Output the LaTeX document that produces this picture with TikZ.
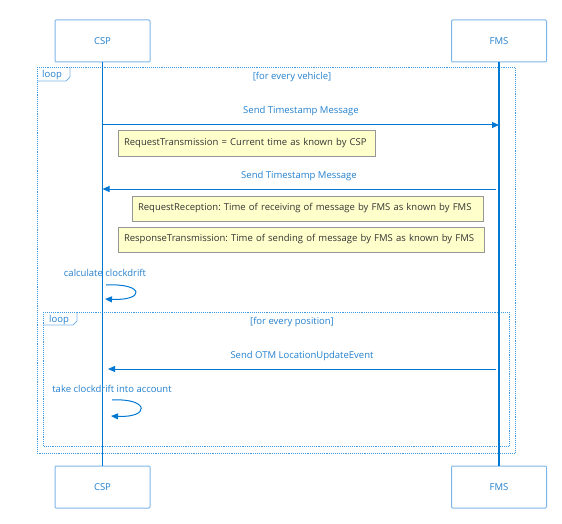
\documentclass[tikz,border=0pt]{standalone}
\usepackage{fontspec}
\setmainfont{Open Sans}
\usepackage{tikz}
\usetikzlibrary{arrows.meta}
\definecolor{lifeblue}{RGB}{0,120,212}
\definecolor{boxblue}{RGB}{125,182,232}
\definecolor{textblue}{RGB}{35,128,205}
\definecolor{noteyellow}{RGB}{255,255,204}
\definecolor{notegray}{RGB}{150,150,150}
\frenchspacing

\begin{document}
\begin{tikzpicture}[x=1pt,y=-1pt,
    lifebox/.style={draw=boxblue,fill=white,line width=1pt,rounded corners=1pt,minimum width=95pt,minimum height=42pt,text=textblue,font=\fontsize{9.5}{11}\selectfont},
    notebox/.style={draw=notegray,fill=noteyellow,line width=1pt,minimum height=25pt,inner xsep=6pt,align=left,text=black!80,font=\fontsize{9.5}{11}\selectfont},
    msg/.style={lifeblue,line width=1pt,-{Triangle[length=7pt,width=6pt]}},
    msglabel/.style={text=textblue,font=\fontsize{9.5}{11}\selectfont},
    loopframe/.style={lifeblue!75,densely dotted,line width=0.9pt},
    looptag/.style={boxblue,line width=0.8pt}]
        \useasboundingbox (0,0) rectangle (562,524);

        \coordinate (v1) at (102.5,41);
        \coordinate (v2) at (499,41);
        \coordinate (v3) at (102.5,487);
        \coordinate (v4) at (499,487);

        % loop frames
        \draw[loopframe] (37,67) rectangle (515,453);
        \draw[looptag] (37,81) -- (66,81) -- (70,77) -- (70,67);
        \node[msglabel] (tag1) at (52,75) {loop};
        \node[msglabel] (guard1) at (292,77.5) {[for every vehicle]};

        \draw[loopframe] (43,312) rectangle (509,446);
        \draw[looptag] (43,325) -- (73,325) -- (77,321) -- (77,312);
        \node[msglabel] (tag2) at (59,320) {loop};
        \node[msglabel] (guard2) at (292,322.5) {[for every position]};

        % participants and lifelines
        \node[lifebox] (csptop) at (v1) {CSP};
        \node[lifebox] (fmstop) at (v2) {FMS};
        \node[lifebox] (cspbot) at (v3) {CSP};
        \node[lifebox] (fmsbot) at (v4) {FMS};
        \draw[lifeblue,line width=1.5pt] (csptop.south) -- (cspbot.north);
        \draw[lifeblue,line width=1.5pt] (fmstop.south) -- (fmsbot.north);

        % messages
        \coordinate (m1a) at (102.5,125);
        \coordinate (m1b) at (499,125);
        \coordinate (m2a) at (496,189);
        \coordinate (m2b) at (102.5,189);
        \coordinate (m3a) at (496,369);
        \coordinate (m3b) at (108,369);
        \draw[msg] (m1a) -- (m1b);
        \node[msglabel] (l1) at (301,111.5) {Send Timestamp Message};
        \draw[msg] (m2a) -- (m2b);
        \node[msglabel] (l2) at (299,176.5) {Send Timestamp Message};
        \draw[msg] (m3a) -- (m3b);
        \node[msglabel] (l3) at (302,356) {Send OTM LocationUpdateEvent};

        % notes
        \node[notebox,text width=245pt] (n1) at (246.5,143.5) {RequestTransmission = Current time as known by CSP};
        \node[notebox,text width=339pt] (n2) at (307.5,208.5) {RequestReception: Time of receiving of message by FMS as known by FMS};
        \node[notebox,text width=354pt] (n3) at (301,239.5) {ResponseTransmission: Time of sending of message by FMS as known by FMS};

        % self messages
        \node[msglabel] (s1) at (105,272.5) {calculate clockdrift};
        \coordinate (s1a) at (106,285);
        \coordinate (s1b) at (105,299);
        \draw[msg] (s1a) .. controls (145,283) and (145,301) .. (s1b);
        \node[msglabel] (s2) at (112,389) {take clockdrift into account};
        \coordinate (s2a) at (112,400);
        \coordinate (s2b) at (111,416);
        \draw[msg] (s2a) .. controls (150,398) and (150,418) .. (s2b);
    \end{tikzpicture}
\end{document}
